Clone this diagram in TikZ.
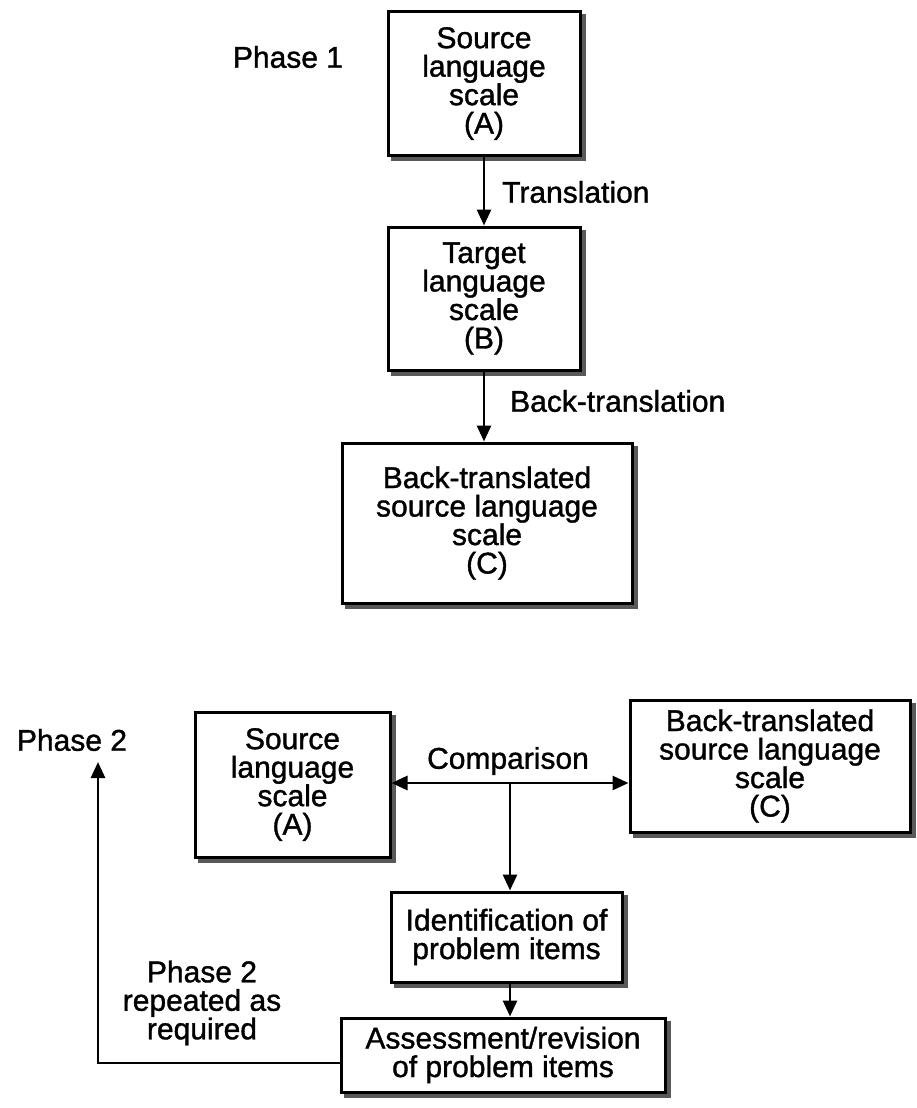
\documentclass[tikz,border=0pt]{standalone}
\usepackage{fontspec}
\setmainfont{Liberation Sans}[FakeBold=1.2]
\newfontfamily\labelfont{Liberation Sans}[FakeBold=1.2]
\usetikzlibrary{arrows.meta}
\tikzset{
  box/.style={draw=black, line width=3pt, fill=white, align=center,
    inner sep=0pt, font=\labelfont\fontsize{30}{28.5}\selectfont,
    preaction={draw=black!65, fill=black!65, line width=3pt,
      transform canvas={xshift=4pt, yshift=-4pt}}},
  lbl/.style={align=center, inner sep=0pt, font=\labelfont\fontsize{30}{28.5}\selectfont},
  flow/.style={line width=2.8pt, -{Triangle[length=16pt, width=14pt]}},
  both/.style={line width=2.8pt, {Triangle[length=16pt, width=14pt]}-{Triangle[length=16pt, width=14pt]}}
}
\begin{document}
\begin{tikzpicture}[x=1pt, y=-1pt]
\useasboundingbox (0,0) rectangle (916,1108);

% Phase 1: translation and back-translation
\node[lbl] (ph1) at (288,57) {Phase 1};
\node[box, minimum width=192pt, minimum height=143pt] (A) at (484,83.5)
  {Source\\language\\scale\\(A)};
\node[box, minimum width=192pt, minimum height=143pt] (B) at (484,298.5)
  {Target\\language\\scale\\(B)};
\node[box, minimum width=290pt, minimum height=160pt] (C) at (487,523)
  {Back-translated\\source language\\scale\\(C)};
\draw[flow] (A.south) -- (B.north);
\draw[flow] (B.south) -- (B.south |- C.north);
\node[lbl, anchor=west] (tr) at (502,192) {Translation};
\node[lbl, anchor=west] (btr) at (510,401) {Back-translation};

% Phase 2: comparison and revision
\node[lbl] (ph2) at (72,740) {Phase 2};
\node[box, minimum width=195pt, minimum height=145pt] (A2) at (292.5,784.5)
  {Source\\language\\scale\\(A)};
\node[box, minimum width=280pt, minimum height=132pt] (C2) at (770,766)
  {Back-translated\\source language\\scale\\(C)};
\node[box, minimum width=231pt, minimum height=90pt] (id) at (506.5,937)
  {Identification of\\problem items};
\node[box, minimum width=324pt, minimum height=74pt] (as) at (503,1055)
  {Assessment/revision\\of problem items};

\coordinate (cl) at (A2.east |- 0,783);
\coordinate (cr) at (C2.west |- 0,783);
\coordinate (j) at (510,783);
\draw[both] (cl) -- (cr);
\node[lbl] (cmp) at (508,761) {Comparison};
\draw[flow] (j) -- (j |- id.north);
\draw[flow] (j |- id.south) -- (j |- as.north);

% feedback loop
\coordinate (fb) at (as.west |- 0,1063);
\coordinate (fc) at (98,1063);
\coordinate (ft) at (98,762);
\draw[flow] (fb) -- (fc) -- (ft);
\node[lbl] (rep) at (202,1003) {Phase 2\\repeated as\\required};
\end{tikzpicture}
\end{document}
